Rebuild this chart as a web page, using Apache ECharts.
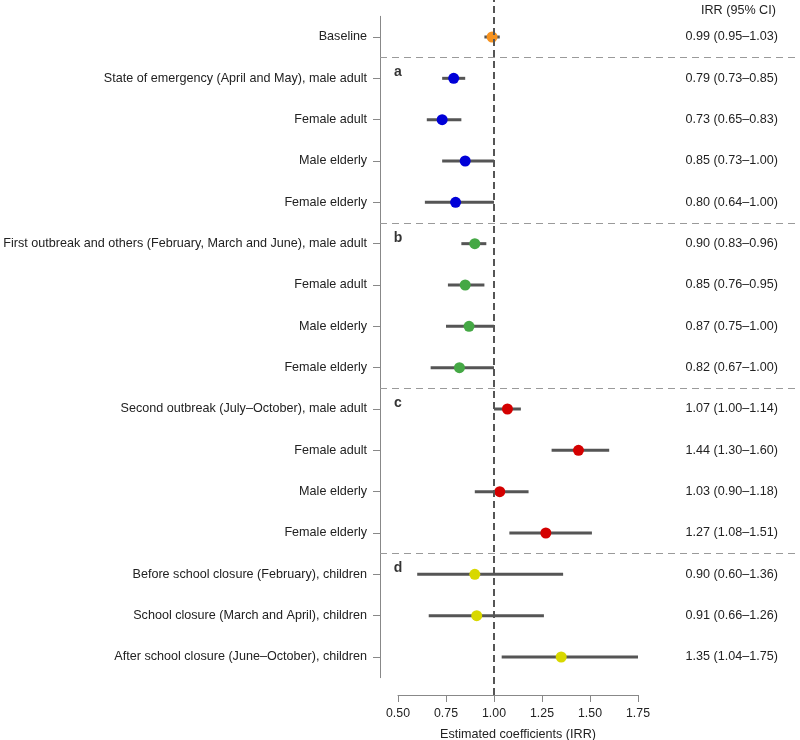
<!DOCTYPE html>
<html>
<head>
<meta charset="utf-8">
<script src="https://cdn.jsdelivr.net/npm/echarts@6/dist/echarts.min.js"></script>
<style>html,body{margin:0;padding:0;background:#fff}#c{width:800px;height:740px}</style>
</head>
<body>
<div id="c"></div>
<script>
// ---- data ----
const rowLabels = [
  'Baseline',
  'State of emergency (April and May), male adult', 'Female adult', 'Male elderly', 'Female elderly',
  'First outbreak and others (February, March and June), male adult', 'Female adult', 'Male elderly', 'Female elderly',
  'Second outbreak (July\u2013October), male adult', 'Female adult', 'Male elderly', 'Female elderly',
  'Before school closure (February), children', 'School closure (March and April), children', 'After school closure (June\u2013October), children'
];
const irr   = [0.99, 0.79, 0.73, 0.85, 0.80, 0.90, 0.85, 0.87, 0.82, 1.07, 1.44, 1.03, 1.27, 0.90, 0.91, 1.35];
const ciLow = [0.95, 0.73, 0.65, 0.73, 0.64, 0.83, 0.76, 0.75, 0.67, 1.00, 1.30, 0.90, 1.08, 0.60, 0.66, 1.04];
const ciHigh= [1.03, 0.85, 0.83, 1.00, 1.00, 0.96, 0.95, 1.00, 1.00, 1.14, 1.60, 1.18, 1.51, 1.36, 1.26, 1.75];
const rowGroup = [0, 1, 1, 1, 1, 2, 2, 2, 2, 3, 3, 3, 3, 4, 4, 4];
const groupLetters = ['', 'a', 'b', 'c', 'd'];
const groupColors = ['#f7921e', '#0000d8', '#45a845', '#d40000', '#d8d800'];
const xTicks = [0.5, 0.75, 1.0, 1.25, 1.5, 1.75];
const refValue = 1.0;

// ---- derived ----
const n = rowLabels.length;
const rowIds = rowLabels.map((_, i) => String(i));
const ciText = irr.map((v, i) => v.toFixed(2) + ' (' + ciLow[i].toFixed(2) + '\u2013' + ciHigh[i].toFixed(2) + ')');
const separators = [];
const letterPts = [];
for (let i = 1; i < n; i++) {
  if (rowGroup[i] !== rowGroup[i - 1]) {
    separators.push({ yAxis: i - 0.5 });
    letterPts.push({ value: [xTicks[0], i], name: groupLetters[rowGroup[i]] });
  }
}
const FONT = '"Liberation Sans", Arial, Helvetica, sans-serif';
const FS = 12.6;
const chart = echarts.init(document.getElementById('c'), null, { renderer: 'canvas' });
const hidden = { show: false };
chart.setOption({
  animation: false,
  backgroundColor: '#fff',
  textStyle: { fontFamily: FONT },
  title: {
    text: 'IRR (95% CI)', left: 696, top: -1,
    textStyle: { fontSize: FS, fontWeight: 'normal', color: '#222', fontFamily: FONT }
  },
  grid: [
    { left: 398, right: 162, top: 16.33, bottom: 62.33, outerBoundsMode: 'none', containLabel: false },
    { left: 380, right: 0, top: 16.33, bottom: 62.33, outerBoundsMode: 'none', containLabel: false },
    { left: 398, right: 162, top: 0, bottom: 45, outerBoundsMode: 'none', containLabel: false }
  ],
  xAxis: [
    { gridIndex: 0, type: 'value', min: xTicks[0], max: xTicks[xTicks.length - 1], show: false, splitLine: hidden },
    { gridIndex: 1, type: 'value', min: 0, max: 1, show: false, splitLine: hidden },
    {
      gridIndex: 2, type: 'value', min: xTicks[0], max: xTicks[xTicks.length - 1], interval: 0.25,
      position: 'bottom',
      axisLine: { show: true, lineStyle: { color: '#888', width: 1 } },
      axisTick: { show: true, length: 7, lineStyle: { color: '#888' } },
      axisLabel: { margin: 13, fontSize: 12.3, color: '#222', fontFamily: FONT, formatter: v => v.toFixed(2) },
      splitLine: hidden,
      name: 'Estimated coefficients (IRR)', nameLocation: 'middle', nameGap: 33,
      nameTextStyle: { fontSize: FS, color: '#222', fontFamily: FONT }
    }
  ],
  yAxis: [
    {
      gridIndex: 0, type: 'category', data: rowIds, inverse: true, position: 'left', offset: 18,
      axisLine: { show: true, lineStyle: { color: '#888', width: 1 } },
      axisTick: { show: true, alignWithLabel: true, length: 7, lineStyle: { color: '#888' } },
      axisLabel: { margin: 13, fontSize: FS, color: '#222', fontFamily: FONT, interval: 0, formatter: (v, i) => rowLabels[i] },
      splitLine: hidden
    },
    {
      gridIndex: 0, type: 'category', data: rowIds, inverse: true, position: 'right',
      axisLine: hidden, axisTick: hidden,
      axisLabel: { margin: 140, align: 'right', fontSize: FS, color: '#222', fontFamily: FONT, interval: 0, formatter: (v, i) => ciText[i] },
      splitLine: hidden
    },
    { gridIndex: 0, type: 'value', min: -0.5, max: n - 0.5, inverse: true, show: false, splitLine: hidden },
    { gridIndex: 1, type: 'value', min: -0.5, max: n - 0.5, inverse: true, show: false, splitLine: hidden },
    { gridIndex: 2, type: 'value', min: 0, max: 1, show: false, splitLine: hidden }
  ],
  series: [
    {
      type: 'line', xAxisIndex: 1, yAxisIndex: 3, data: [], z: 1, silent: true,
      markLine: {
        symbol: ['none', 'none'], silent: true, animation: false,
        label: { show: false },
        lineStyle: { type: [7, 5], color: '#9a9a9a', width: 1.2 },
        data: separators
      }
    },
    {
      type: 'line', xAxisIndex: 2, yAxisIndex: 4, data: [], z: 2, silent: true,
      markLine: {
        symbol: ['none', 'none'], silent: true, animation: false,
        label: { show: false },
        lineStyle: { type: [7, 4], color: '#555', width: 2 },
        data: [{ xAxis: refValue }]
      }
    },
    {
      type: 'custom', xAxisIndex: 0, yAxisIndex: 2, z: 3, silent: true,
      data: irr.map((v, i) => [ciLow[i], ciHigh[i], i]),
      encode: { x: [0, 1], y: 2 },
      renderItem: function (params, api) {
        const a = api.coord([api.value(0), api.value(2)]);
        const b = api.coord([api.value(1), api.value(2)]);
        return { type: 'line', shape: { x1: a[0], y1: a[1], x2: b[0], y2: b[1] }, style: { stroke: '#555', lineWidth: 3 } };
      }
    },
    {
      type: 'scatter', xAxisIndex: 0, yAxisIndex: 2, z: 4, symbolSize: 11, silent: true,
      data: irr.map((v, i) => ({ value: [v, i], itemStyle: { color: groupColors[rowGroup[i]], opacity: 1 } }))
    },
    {
      type: 'scatter', xAxisIndex: 0, yAxisIndex: 2, z: 5, symbolSize: 0, silent: true,
      data: letterPts,
      label: {
        show: true, position: 'inside', offset: [0, -6], formatter: p => p.name,
        fontSize: 14, fontWeight: 'bold', color: '#000', fontFamily: FONT
      }
    }
  ]
});
</script>
</body>
</html>
